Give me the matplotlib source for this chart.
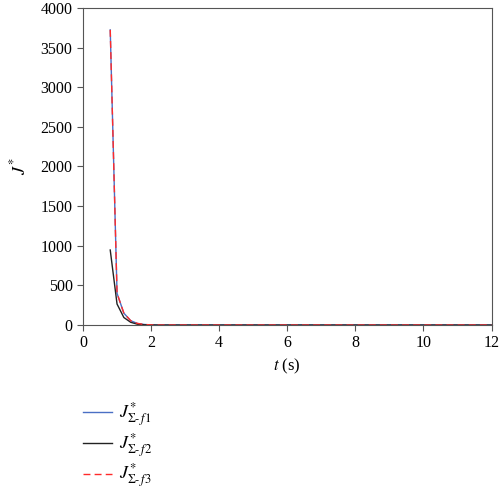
import matplotlib
matplotlib.use("Agg")
import matplotlib.pyplot as plt

plt.rcParams['font.family'] = ['Liberation Serif', 'DejaVu Serif']
plt.rcParams['mathtext.fontset'] = 'stix'

t = [0.8, 1.0, 1.2, 1.4, 1.6, 1.8, 2.0, 2.2, 12.0]
J_f1 = [3722, 400, 150, 55, 20, 7, 2, 0, 0]
J_f2 = [946, 265, 95, 35, 10, 3, 1, 0, 0]
J_f3 = [3722, 400, 150, 55, 20, 7, 2, 0, 0]
labels = [r'$J^{*}_{\Sigma\text{-}\,f1}$', r'$J^{*}_{\Sigma\text{-}\,f2}$', r'$J^{*}_{\Sigma\text{-}\,f3}$']

fig = plt.figure(figsize=(5, 4.91), dpi=100)
ax = fig.add_axes([0.166, 0.338, 0.817, 0.646])

l1, = ax.plot(t, J_f1, color='#4a6fc4', lw=1.0)
l2, = ax.plot(t, J_f2, color='#222222', lw=1.0)
l3, = ax.plot(t, J_f3, color='#ff2a2a', lw=1.0, ls=(0, (5, 3)))

ax.set_xlim(0, 12)
ax.set_ylim(0, 4000)
ax.set_xticks(range(0, 13, 2))
ax.set_yticks(range(0, 4001, 500))
for s in ax.spines.values():
    s.set_color('#555555')
ax.tick_params(direction='out', length=4, color='#555555', labelsize=11.5)
ax.set_xlabel(r'$t$ (s)', fontsize=12)
ax.set_ylabel(r'$J^{*}$', fontsize=13, labelpad=8)

fig.legend([l1, l2, l3], labels, loc='upper left', bbox_to_anchor=(0.151, 0.198),
           frameon=False, fontsize=13, handlelength=1.6, labelspacing=0.15,
           handletextpad=0.4, borderaxespad=0)

fig.savefig('out.png', dpi=100)
